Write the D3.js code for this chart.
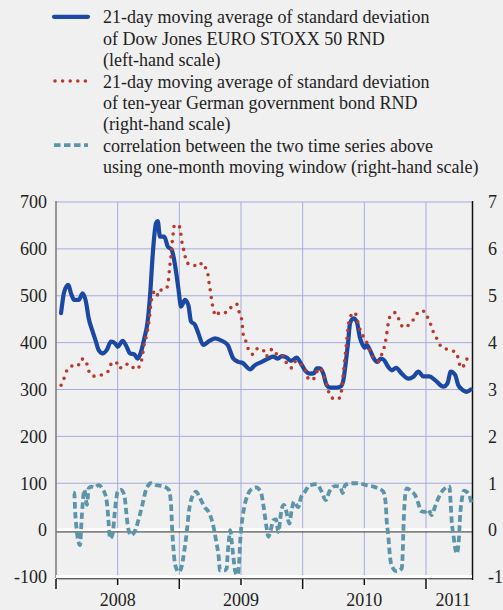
<!DOCTYPE html>
<html>
<head>
<meta charset="utf-8">
<script src="https://cdn.jsdelivr.net/npm/d3@7"></script>
<style>
body{margin:0;background:#f0f0f0;}
svg{display:block;font-family:"Liberation Serif","Times New Roman",serif;}
</style>
</head>
<body>
<div id="chart"></div>
<script>
// time is in decimal years
var stoxx = [[2008.041,463],[2008.067,509],[2008.100,523],[2008.122,505],[2008.148,491],[2008.184,491],[2008.216,505],
	[2008.243,487],[2008.265,452],[2008.298,423],[2008.324,402],[2008.346,384],[2008.379,377],[2008.411,384],[2008.446,402],
	[2008.481,398],[2008.500,391],[2008.541,404],[2008.573,391],[2008.600,377],[2008.635,375],[2008.662,366],[2008.689,380],
	[2008.716,409],[2008.743,445],[2008.765,509],[2008.784,587],[2008.811,655],[2008.825,659],[2008.843,626],[2008.878,626],
	[2008.906,605],[2008.938,598],[2008.965,566],[2008.992,516],[2009.014,477],[2009.046,491],[2009.073,480],[2009.095,445],
	[2009.127,438],[2009.154,420],[2009.194,395],[2009.235,402],[2009.289,409],[2009.344,404],[2009.392,395],[2009.438,366],
	[2009.478,359],[2009.511,357],[2009.573,343],[2009.614,352],[2009.668,359],[2009.721,366],[2009.762,370],[2009.798,366],
	[2009.830,371],[2009.871,368],[2009.905,361],[2009.952,368],[2009.978,359],[2010.019,341],[2010.059,334],[2010.094,335],
	[2010.114,345],[2010.141,345],[2010.167,334],[2010.195,309],[2010.222,304],[2010.276,304],[2010.311,307],[2010.330,320],
	[2010.349,356],[2010.370,405],[2010.384,441],[2010.411,452],[2010.438,445],[2010.465,410],[2010.487,395],[2010.503,389],
	[2010.519,395],[2010.546,384],[2010.573,368],[2010.606,359],[2010.633,366],[2010.659,363],[2010.694,348],[2010.722,341],
	[2010.757,346],[2010.803,334],[2010.857,323],[2010.897,327],[2010.938,338],[2010.978,328],[2011.027,328],[2011.074,320],
	[2011.141,306],[2011.174,313],[2011.201,338],[2011.236,331],[2011.262,309],[2011.303,298],[2011.330,295],[2011.363,300]];

var bund = [[2008.041,3.09],[2008.067,3.25],[2008.089,3.41],[2008.127,3.50],[2008.176,3.50],[2008.203,3.65],[2008.238,3.64],
	[2008.257,3.48],[2008.278,3.32],[2008.324,3.28],[2008.384,3.33],[2008.427,3.40],[2008.452,3.57],[2008.486,3.59],
	[2008.513,3.45],[2008.562,3.54],[2008.600,3.54],[2008.641,3.43],[2008.679,3.50],[2008.697,3.66],[2008.716,3.98],
	[2008.735,4.16],[2008.756,4.50],[2008.770,4.84],[2008.784,5.02],[2008.805,5.11],[2008.829,5.00],[2008.851,5.12],
	[2008.892,5.14],[2008.911,5.32],[2008.924,5.66],[2008.932,5.82],[2008.943,6.16],[2008.951,6.34],[2008.959,6.50],
	[2008.992,6.51],[2009.011,6.35],[2009.019,6.18],[2009.032,6.02],[2009.046,5.85],[2009.065,5.69],[2009.101,5.69],
	[2009.143,5.62],[2009.190,5.70],[2009.216,5.57],[2009.235,5.41],[2009.243,5.23],[2009.254,5.07],[2009.262,4.90],
	[2009.275,4.73],[2009.295,4.57],[2009.330,4.65],[2009.384,4.64],[2009.425,4.77],[2009.465,4.82],[2009.484,4.66],
	[2009.506,4.48],[2009.519,4.16],[2009.541,4.02],[2009.559,3.86],[2009.593,3.75],[2009.627,3.87],[2009.676,3.86],
	[2009.703,3.70],[2009.735,3.83],[2009.762,3.86],[2009.803,3.71],[2009.838,3.72],[2009.871,3.56],[2009.911,3.46],
	[2009.946,3.61],[2009.992,3.52],[2010.027,3.39],[2010.046,3.23],[2010.081,3.20],[2010.108,3.34],[2010.141,3.46],
	[2010.167,3.31],[2010.200,3.06],[2010.222,2.86],[2010.270,2.79],[2010.308,2.84],[2010.316,3.02],[2010.330,3.34],
	[2010.343,3.68],[2010.357,4.02],[2010.370,4.36],[2010.384,4.52],[2010.406,4.63],[2010.424,4.64],[2010.443,4.48],
	[2010.471,4.23],[2010.506,4.08],[2010.532,3.93],[2010.554,3.77],[2010.587,3.65],[2010.614,3.60],[2010.641,3.75],
	[2010.662,3.91],[2010.676,4.09],[2010.695,4.43],[2010.714,4.59],[2010.749,4.64],[2010.776,4.52],[2010.803,4.36],
	[2010.830,4.32],[2010.876,4.43],[2010.911,4.53],[2010.943,4.67],[2010.984,4.67],[2011.011,4.55],[2011.038,4.39],
	[2011.059,4.23],[2011.087,4.09],[2011.119,3.93],[2011.168,3.86],[2011.200,3.83],[2011.249,3.79],[2011.262,3.63],
	[2011.290,3.46],[2011.324,3.61],[2011.351,3.76]];

var corr = [[2008.140,0.80],[2008.148,0.79],[2008.156,0.36],[2008.168,0.00],[2008.176,-0.18],[2008.195,-0.32],[2008.203,0.00],
	[2008.211,0.36],[2008.221,0.71],[2008.229,0.86],[2008.238,0.75],[2008.251,0.54],[2008.257,0.68],[2008.265,0.89],
	[2008.284,0.93],[2008.311,0.91],[2008.346,0.96],[2008.379,0.87],[2008.405,0.71],[2008.419,0.43],[2008.427,0.14],
	[2008.438,-0.18],[2008.460,-0.07],[2008.473,0.28],[2008.486,0.61],[2008.500,0.82],[2008.527,0.86],[2008.554,0.75],
	[2008.568,0.43],[2008.581,0.11],[2008.608,-0.11],[2008.643,0.00],[2008.675,0.28],[2008.703,0.57],[2008.730,0.86],
	[2008.770,1.00],[2008.811,0.96],[2008.865,0.94],[2008.914,0.86],[2008.932,0.57],[2008.941,0.07],[2008.951,-0.36],
	[2008.967,-0.75],[2008.995,-0.89],[2009.014,-0.82],[2009.041,-0.43],[2009.062,0.00],[2009.076,0.36],[2009.095,0.64],
	[2009.135,0.82],[2009.168,0.68],[2009.203,0.50],[2009.243,0.36],[2009.271,0.14],[2009.297,-0.21],[2009.319,-0.57],
	[2009.330,-0.86],[2009.365,-0.86],[2009.384,-0.82],[2009.392,-0.50],[2009.405,-0.14],[2009.413,0.00],[2009.425,-0.25],
	[2009.438,-0.57],[2009.454,-0.89],[2009.473,-0.96],[2009.486,-0.64],[2009.494,-0.21],[2009.508,0.18],[2009.527,0.50],
	[2009.554,0.75],[2009.595,0.89],[2009.622,0.91],[2009.662,0.80],[2009.681,0.54],[2009.695,0.28],[2009.708,0.04],
	[2009.722,-0.14],[2009.741,0.00],[2009.762,0.21],[2009.784,0.23],[2009.803,-0.04],[2009.816,0.18],[2009.830,0.46],
	[2009.849,0.54],[2009.871,0.36],[2009.892,0.14],[2009.911,0.43],[2009.930,0.61],[2009.965,0.49],[2009.984,0.68],
	[2010.019,0.82],[2010.059,0.96],[2010.114,0.98],[2010.154,0.82],[2010.187,0.64],[2010.216,0.82],[2010.262,0.94],
	[2010.303,0.93],[2010.325,0.79],[2010.343,0.96],[2010.398,1.00],[2010.451,1.00],[2010.514,0.96],[2010.573,0.93],
	[2010.614,0.89],[2010.654,0.82],[2010.673,0.57],[2010.681,0.21],[2010.695,-0.14],[2010.708,-0.57],[2010.727,-0.79],
	[2010.762,-0.88],[2010.803,-0.82],[2010.811,-0.50],[2010.816,-0.07],[2010.822,0.36],[2010.830,0.71],[2010.844,0.89],
	[2010.884,0.82],[2010.911,0.75],[2010.938,0.57],[2010.957,0.41],[2010.992,0.39],[2011.019,0.44],[2011.046,0.32],
	[2011.073,0.50],[2011.100,0.68],[2011.141,0.86],[2011.189,0.93],[2011.200,0.57],[2011.208,0.21],[2011.224,-0.14],
	[2011.249,-0.50],[2011.268,-0.14],[2011.276,0.28],[2011.290,0.64],[2011.308,0.84],[2011.343,0.79],[2011.371,0.54]];

var leftTicks = [-100,0,100,200,300,400,500,600,700];
var rightTicks = [-1,0,1,2,3,4,5,6,7];
var yearTicks = [2008,2009,2010,2011];
var halfYearTicks = [2008.5,2009.5,2010.5];
var yearLabels = [["2008",2008.5],["2009",2009.5],["2010",2010.5],["2011",2011.22]];

var legendItems = [
	{lines:["21-day moving average of standard deviation","of Dow Jones EURO STOXX 50 RND","(left-hand scale)"], cls:"stoxx"},
	{lines:["21-day moving average of standard deviation","of ten-year German government bond RND","(right-hand scale)"], cls:"bund"},
	{lines:["correlation between the two time series above","using one-month moving window (right-hand scale)"], cls:"corr"}
];

var width = 503, height = 610;
var svg = d3.select("div#chart").append("svg")
	.attr("width", width).attr("height", height);

var x = d3.scaleLinear().domain([2008, 2011.373]).range([56, 472]);
var yL = d3.scaleLinear().domain([-100, 700]).range([577, 202]);
var yR = d3.scaleLinear().domain([-1, 7]).range([577, 202]);

var styles = {
	stoxx:{stroke:"#1b48a2", width:4.2, dash:null, cap:"round"},
	bund:{stroke:"#b93a2c", width:3.6, dash:"0 7.6", cap:"round"},
	corr:{stroke:"#5c94a9", width:3.8, dash:"6.5 3.5", cap:"butt"}
};

// grid
var grid = svg.append("g");
grid.selectAll(".hg").data(leftTicks.filter(function(d){ return d > 0; }))
	.enter().append("line")
	.attr("x1", 56).attr("x2", 472)
	.attr("y1", function(d){ return yL(d); }).attr("y2", function(d){ return yL(d); })
	.attr("stroke", "#a4acdf").attr("stroke-width", 1);
grid.selectAll(".vg").data(halfYearTicks.concat([2009,2010,2011]))
	.enter().append("line")
	.attr("x1", function(d){ return x(d); }).attr("x2", function(d){ return x(d); })
	.attr("y1", 202).attr("y2", 577)
	.attr("stroke", "#a4acdf").attr("stroke-width", 1);

// zero line
svg.append("line").attr("x1", 56).attr("x2", 472)
	.attr("y1", yL(0) - 0.5).attr("y2", yL(0) - 0.5)
	.attr("stroke", "#fff").attr("stroke-width", 3);
svg.append("line").attr("x1", 56).attr("x2", 472)
	.attr("y1", yL(0) + 1.8).attr("y2", yL(0) + 1.8)
	.attr("stroke", "#333").attr("stroke-width", 1);

// axes lines
svg.append("line").attr("x1", 56).attr("x2", 56).attr("y1", 201).attr("y2", 578)
	.attr("stroke", "#777").attr("stroke-width", 1.5);
svg.append("line").attr("x1", 472.5).attr("x2", 472.5).attr("y1", 201).attr("y2", 580)
	.attr("stroke", "#111").attr("stroke-width", 1.5);
svg.append("line").attr("x1", 56).attr("x2", 472).attr("y1", 576.5).attr("y2", 576.5)
	.attr("stroke", "#fff").attr("stroke-width", 3);
svg.append("line").attr("x1", 56).attr("x2", 472).attr("y1", 578.8).attr("y2", 578.8)
	.attr("stroke", "#222").attr("stroke-width", 1);

// x ticks
function ticks(vals, len){
	var g = svg.append("g");
	g.selectAll(".tw").data(vals).enter().append("line")
		.attr("x1", function(d){ return x(d) + 1.5; }).attr("x2", function(d){ return x(d) + 1.5; })
		.attr("y1", 579).attr("y2", 579 + len)
		.attr("stroke", "#fff").attr("stroke-width", 1.5);
	g.selectAll(".tb").data(vals).enter().append("line")
		.attr("x1", function(d){ return x(d); }).attr("x2", function(d){ return x(d); })
		.attr("y1", 579).attr("y2", 579 + len)
		.attr("stroke", "#111").attr("stroke-width", 1.5);
}
ticks(yearTicks, 10);
ticks(halfYearTicks, 6);

// tick labels
svg.selectAll(".ly").data(leftTicks).enter().append("text")
	.attr("x", 47).attr("y", function(d){ return yL(d); }).attr("dy", "0.35em")
	.attr("text-anchor", "end").attr("font-size", 18).attr("fill", "#222")
	.text(function(d){ return String(d); });
svg.selectAll(".ry").data(rightTicks).enter().append("text")
	.attr("x", 488).attr("y", function(d){ return yR(d); }).attr("dy", "0.35em")
	.attr("text-anchor", "start").attr("font-size", 18).attr("fill", "#222")
	.text(function(d){ return String(d); });
svg.selectAll(".yl").data(yearLabels).enter().append("text")
	.attr("x", function(d){ return x(d[1]); }).attr("y", 606)
	.attr("text-anchor", "middle").attr("font-size", 18).attr("fill", "#222")
	.text(function(d){ return d[0]; });

// series
function draw(data, yScale, st){
	var line = d3.line()
		.x(function(d){ return x(d[0]); })
		.y(function(d){ return yScale(d[1]); })
		.curve(d3.curveMonotoneX);
	svg.append("path").datum(data)
		.attr("d", line)
		.attr("fill", "none")
		.attr("stroke", st.stroke)
		.attr("stroke-width", st.width)
		.attr("stroke-dasharray", st.dash)
		.attr("stroke-linecap", st.cap)
		.attr("stroke-linejoin", "round");
}
draw(stoxx, yL, styles.stoxx);
draw(bund, yR, styles.bund);
draw(corr, yR, styles.corr);

// legend
var lineH = 21.4;
var row = 0;
legendItems.forEach(function(item){
	var top = 23.3 + row * lineH;
	var st = styles[item.cls];
	svg.append("line")
		.attr("x1", item.cls == "bund" ? 55 : 54).attr("x2", 88)
		.attr("y1", top - 6.5).attr("y2", top - 6.5)
		.attr("stroke", st.stroke).attr("stroke-width", st.width)
		.attr("stroke-dasharray", st.dash).attr("stroke-linecap", st.cap);
	var t = svg.append("text").attr("x", 103).attr("y", top)
		.attr("font-size", 18).attr("fill", "#222");
	item.lines.forEach(function(l, i){
		t.append("tspan").attr("x", 103).attr("dy", i == 0 ? 0 : lineH).text(l);
	});
	row += item.lines.length;
});
</script>
</body>
</html>
